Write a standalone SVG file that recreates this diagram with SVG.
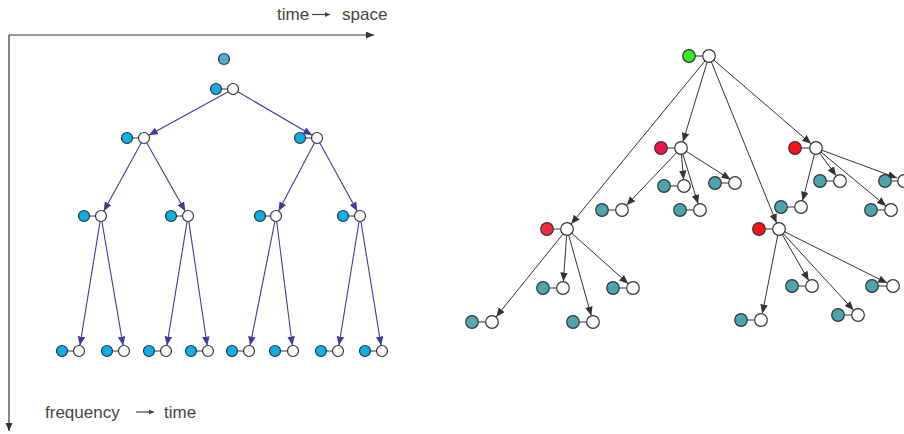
<svg xmlns="http://www.w3.org/2000/svg" width="904" height="434" viewBox="0 0 904 434">
<defs>
<marker id="ab" markerWidth="10" markerHeight="8" refX="9" refY="3.75" orient="auto" markerUnits="userSpaceOnUse"><path d="M0,0 L9,3.75 L0,7.5 z" fill="#3d3d9b"/></marker>
<marker id="ag" markerWidth="10" markerHeight="8" refX="9" refY="3.75" orient="auto" markerUnits="userSpaceOnUse"><path d="M0,0 L9,3.75 L0,7.5 z" fill="#333"/></marker>
<marker id="ax" markerWidth="9" markerHeight="8" refX="8" refY="3.5" orient="auto" markerUnits="userSpaceOnUse"><path d="M0,0 L8,3.5 L0,7 z" fill="#333"/></marker>
<marker id="as" markerWidth="6" markerHeight="6" refX="5" refY="2.5" orient="auto" markerUnits="userSpaceOnUse"><path d="M0,0 L5,2.5 L0,5 z" fill="#444"/></marker>
</defs>
<style>
text{font-family:"Liberation Sans",Arial,sans-serif;font-size:17px;fill:#444}
circle{stroke:#333;stroke-width:1.2}
.w{fill:#fff}
.b{fill:#0aaee8}
.t{fill:#4ca5ae}
.k{stroke:#777;stroke-width:1.5}
.eb line{stroke:#3d3d9b;stroke-width:1.1;marker-end:url(#ab)}
.eg line{stroke:#333;stroke-width:1;marker-end:url(#ag)}
.axis{stroke:#333;stroke-width:1.2;fill:none;marker-end:url(#ax)}
</style>
<rect width="904" height="434" fill="#fff"/>

<g id="axes">
<path class="axis" d="M9,35 H374"/>
<path class="axis" d="M9,35 V431"/>
<text x="277" y="20">time</text>
<line x1="312" y1="14.5" x2="330" y2="14.5" stroke="#444" stroke-width="1.2" marker-end="url(#as)"/>
<text x="342" y="20">space</text>
<text x="45" y="418">frequency</text>
<line x1="136" y1="412" x2="154" y2="412" stroke="#444" stroke-width="1.2" marker-end="url(#as)"/>
<text x="164" y="418">time</text>
</g>

<g id="connectors-left" class="eb">
<line x1="228.2" y1="91.7" x2="148.8" y2="135.3"/>
<line x1="237.8" y1="91.8" x2="312.2" y2="135.2"/>
<line x1="141.3" y1="142.8" x2="103.7" y2="211.2"/>
<line x1="146.7" y1="142.8" x2="185.3" y2="211.2"/>
<line x1="314.4" y1="142.9" x2="278.6" y2="211.1"/>
<line x1="319.7" y1="142.8" x2="357.3" y2="211.2"/>
<line x1="100.1" y1="221.4" x2="79.9" y2="345.6"/>
<line x1="101.9" y1="221.4" x2="123.1" y2="345.6"/>
<line x1="187.1" y1="221.4" x2="166.9" y2="345.6"/>
<line x1="188.8" y1="221.4" x2="207.2" y2="345.6"/>
<line x1="274.9" y1="221.4" x2="250.1" y2="345.6"/>
<line x1="276.7" y1="221.5" x2="292.3" y2="345.5"/>
<line x1="359.1" y1="221.4" x2="338.9" y2="345.6"/>
<line x1="360.9" y1="221.4" x2="381.1" y2="345.6"/>
</g>

<g id="connectors-right" class="eg">
<line x1="707.1" y1="62.2" x2="682.9" y2="141.8"/>
<line x1="713.9" y1="60.2" x2="811.1" y2="143.8"/>
<line x1="704.9" y1="61.0" x2="571.1" y2="224.0"/>
<line x1="711.4" y1="62.0" x2="776.6" y2="223.0"/>
<line x1="676.5" y1="152.7" x2="626.5" y2="205.3"/>
<line x1="681.5" y1="154.5" x2="683.5" y2="179.5"/>
<line x1="682.9" y1="154.2" x2="698.1" y2="203.8"/>
<line x1="686.5" y1="151.5" x2="730.5" y2="179.5"/>
<line x1="814.4" y1="154.3" x2="802.6" y2="200.7"/>
<line x1="819.8" y1="153.3" x2="836.2" y2="175.7"/>
<line x1="821.0" y1="152.1" x2="886.0" y2="205.9"/>
<line x1="822.1" y1="150.3" x2="897.0" y2="178.0"/>
<line x1="562.9" y1="234.1" x2="496.1" y2="316.9"/>
<line x1="566.6" y1="235.5" x2="563.4" y2="281.5"/>
<line x1="568.7" y1="235.3" x2="591.3" y2="315.7"/>
<line x1="571.8" y1="233.3" x2="628.2" y2="283.7"/>
<line x1="777.7" y1="235.4" x2="762.3" y2="313.6"/>
<line x1="782.3" y1="234.6" x2="808.7" y2="280.4"/>
<line x1="783.4" y1="233.8" x2="853.6" y2="310.2"/>
<line x1="784.8" y1="231.9" x2="887.2" y2="283.1"/>
</g>

<!-- left tree nodes -->
<g id="n-top"><circle cx="224" cy="59" r="5.5" fill="#4aaed6"/></g>
<g id="n-root"><line class="k" x1="216" y1="89" x2="233" y2="89"/><circle class="b" cx="216" cy="89" r="5.5"/><circle class="w" cx="233" cy="89" r="5.5"/></g>
<g id="n-l1"><line class="k" x1="127" y1="138" x2="144" y2="138"/><circle class="b" cx="127" cy="138" r="5.5"/><circle class="w" cx="144" cy="138" r="5.5"/></g>
<g id="n-r1"><line class="k" x1="300" y1="138" x2="317" y2="138"/><circle class="b" cx="300" cy="138" r="5.5"/><circle class="w" cx="317" cy="138" r="5.5"/></g>
<g id="n-l2a"><line class="k" x1="84" y1="216" x2="101" y2="216"/><circle class="b" cx="84" cy="216" r="5.5"/><circle class="w" cx="101" cy="216" r="5.5"/></g>
<g id="n-l2b"><line class="k" x1="171" y1="216" x2="188" y2="216"/><circle class="b" cx="171" cy="216" r="5.5"/><circle class="w" cx="188" cy="216" r="5.5"/></g>
<g id="n-r2a"><line class="k" x1="260" y1="216" x2="276" y2="216"/><circle class="b" cx="260" cy="216" r="5.5"/><circle class="w" cx="276" cy="216" r="5.5"/></g>
<g id="n-r2b"><line class="k" x1="343" y1="216" x2="360" y2="216"/><circle class="b" cx="343" cy="216" r="5.5"/><circle class="w" cx="360" cy="216" r="5.5"/></g>
<g id="n-b1"><line class="k" x1="62" y1="351" x2="79" y2="351"/><circle class="b" cx="62" cy="351" r="5.5"/><circle class="w" cx="79" cy="351" r="5.5"/></g>
<g id="n-b2"><line class="k" x1="107" y1="351" x2="124" y2="351"/><circle class="b" cx="107" cy="351" r="5.5"/><circle class="w" cx="124" cy="351" r="5.5"/></g>
<g id="n-b3"><line class="k" x1="149" y1="351" x2="166" y2="351"/><circle class="b" cx="149" cy="351" r="5.5"/><circle class="w" cx="166" cy="351" r="5.5"/></g>
<g id="n-b4"><line class="k" x1="191" y1="351" x2="208" y2="351"/><circle class="b" cx="191" cy="351" r="5.5"/><circle class="w" cx="208" cy="351" r="5.5"/></g>
<g id="n-b5"><line class="k" x1="232" y1="351" x2="249" y2="351"/><circle class="b" cx="232" cy="351" r="5.5"/><circle class="w" cx="249" cy="351" r="5.5"/></g>
<g id="n-b6"><line class="k" x1="275" y1="351" x2="293" y2="351"/><circle class="b" cx="275" cy="351" r="5.5"/><circle class="w" cx="293" cy="351" r="5.5"/></g>
<g id="n-b7"><line class="k" x1="321" y1="351" x2="338" y2="351"/><circle class="b" cx="321" cy="351" r="5.5"/><circle class="w" cx="338" cy="351" r="5.5"/></g>
<g id="n-b8"><line class="k" x1="365" y1="351" x2="382" y2="351"/><circle class="b" cx="365" cy="351" r="5.5"/><circle class="w" cx="382" cy="351" r="5.5"/></g>

<!-- right tree nodes -->
<g id="m-root"><line class="k" x1="689" y1="56" x2="709" y2="56"/><circle cx="689" cy="56" r="6.3" fill="#33ee22"/><circle class="w" cx="709" cy="56" r="6.3"/></g>
<g id="m-a"><line class="k" x1="661" y1="148" x2="681" y2="148"/><circle cx="661" cy="148" r="6.3" fill="#f0104b"/><circle class="w" cx="681" cy="148" r="6.3"/></g>
<g id="m-b"><line class="k" x1="795" y1="148" x2="816" y2="148"/><circle cx="795" cy="148" r="6.3" fill="#ff1111"/><circle class="w" cx="816" cy="148" r="6.3"/></g>
<g id="m-c"><line class="k" x1="547" y1="229" x2="567" y2="229"/><circle cx="547" cy="229" r="6.3" fill="#ee2b36"/><circle class="w" cx="567" cy="229" r="6.3"/></g>
<g id="m-d"><line class="k" x1="759" y1="229" x2="779" y2="229"/><circle cx="759" cy="229" r="6.3" fill="#ff1111"/><circle class="w" cx="779" cy="229" r="6.3"/></g>

<g id="m-a1"><line class="k" x1="602" y1="210" x2="622" y2="210"/><circle class="t" cx="602" cy="210" r="6.3"/><circle class="w" cx="622" cy="210" r="6.3"/></g>
<g id="m-a2"><line class="k" x1="664" y1="186" x2="684" y2="186"/><circle class="t" cx="664" cy="186" r="6.3"/><circle class="w" cx="684" cy="186" r="6.3"/></g>
<g id="m-a3"><line class="k" x1="680" y1="210" x2="700" y2="210"/><circle class="t" cx="680" cy="210" r="6.3"/><circle class="w" cx="700" cy="210" r="6.3"/></g>
<g id="m-a4"><line class="k" x1="715" y1="183" x2="735" y2="183"/><circle class="t" cx="715" cy="183" r="6.3"/><circle class="w" cx="735" cy="183" r="6.3"/></g>

<g id="m-b1"><line class="k" x1="781" y1="207" x2="801" y2="207"/><circle class="t" cx="781" cy="207" r="6.3"/><circle class="w" cx="801" cy="207" r="6.3"/></g>
<g id="m-b2"><line class="k" x1="820" y1="181" x2="840" y2="181"/><circle class="t" cx="820" cy="181" r="6.3"/><circle class="w" cx="840" cy="181" r="6.3"/></g>
<g id="m-b3"><line class="k" x1="871" y1="210" x2="891" y2="210"/><circle class="t" cx="871" cy="210" r="6.3"/><circle class="w" cx="891" cy="210" r="6.3"/></g>
<g id="m-b4"><line class="k" x1="885" y1="181" x2="904" y2="181"/><circle class="t" cx="885" cy="181" r="6.3"/><circle class="w" cx="904" cy="181" r="6.3"/></g>

<g id="m-c1"><line class="k" x1="472" y1="322" x2="492" y2="322"/><circle cx="472" cy="322" r="6.3" fill="#5aa9b0" stroke="#7fb8bd"/><circle class="w" cx="492" cy="322" r="6.3"/></g>
<g id="m-c2"><line class="k" x1="543" y1="288" x2="563" y2="288"/><circle class="t" cx="543" cy="288" r="6.3"/><circle class="w" cx="563" cy="288" r="6.3"/></g>
<g id="m-c3"><line class="k" x1="573" y1="322" x2="593" y2="322"/><circle class="t" cx="573" cy="322" r="6.3"/><circle class="w" cx="593" cy="322" r="6.3"/></g>
<g id="m-c4"><line class="k" x1="613" y1="288" x2="633" y2="288"/><circle class="t" cx="613" cy="288" r="6.3"/><circle class="w" cx="633" cy="288" r="6.3"/></g>

<g id="m-d1"><line class="k" x1="741" y1="320" x2="761" y2="320"/><circle class="t" cx="741" cy="320" r="6.3"/><circle class="w" cx="761" cy="320" r="6.3"/></g>
<g id="m-d2"><line class="k" x1="792" y1="286" x2="812" y2="286"/><circle class="t" cx="792" cy="286" r="6.3"/><circle class="w" cx="812" cy="286" r="6.3"/></g>
<g id="m-d3"><line class="k" x1="838" y1="315" x2="858" y2="315"/><circle class="t" cx="838" cy="315" r="6.3"/><circle class="w" cx="858" cy="315" r="6.3"/></g>
<g id="m-d4"><line class="k" x1="872" y1="286" x2="893" y2="286"/><circle class="t" cx="872" cy="286" r="6.3"/><circle class="w" cx="893" cy="286" r="6.3"/></g>
</svg>
